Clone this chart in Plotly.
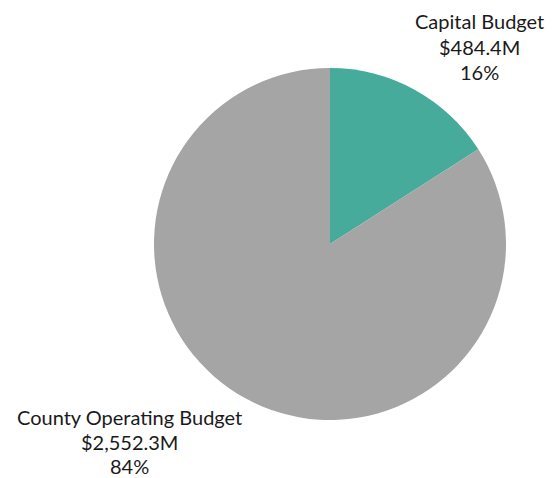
import plotly.graph_objects as go

labels = ["Capital Budget", "County Operating Budget"]
values = [484.4, 2552.3]
value_text = ["$484.4M", "$2,552.3M"]
pct_text = ["16%", "84%"]
colors = ["#46AB9B", "#A5A5A5"]

W, H = 558, 478
fig = go.Figure(go.Pie(
    labels=labels, values=values, sort=False, direction="clockwise", rotation=0,
    marker=dict(colors=colors, line=dict(width=0)),
    textinfo="none", hoverinfo="label+value+percent",
    domain=dict(x=[154 / W, 506 / W], y=[1 - 420 / H, 1 - 68 / H]),
    showlegend=False,
))

label_pos = [(479, [21, 47, 72.5]), (129, [417, 442, 465.5])]
for i, (xc, ys) in enumerate(label_pos):
    for txt, yc in zip([labels[i], value_text[i], pct_text[i]], ys):
        fig.add_annotation(x=xc / W, y=1 - yc / H, xref="paper", yref="paper",
                           text=txt, showarrow=False, xanchor="center", yanchor="middle",
                           font=dict(family="Lato", size=20, color="#1a1a1a"))

fig.update_layout(width=W, height=H, margin=dict(l=0, r=0, t=0, b=0),
                  paper_bgcolor="white", plot_bgcolor="white")
fig.write_html("out.html", config={"displayModeBar": False},
               post_script="document.body.style.margin='0';")
